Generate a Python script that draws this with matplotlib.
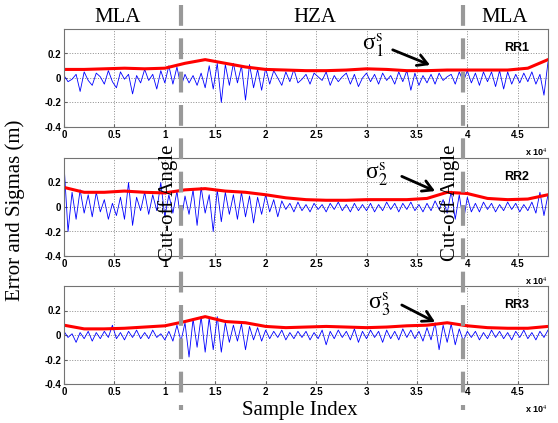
import numpy as np
import matplotlib.pyplot as plt
from matplotlib.lines import Line2D

# blue error series, one value every 400 samples (0 .. 48000)
err_rr1 = [0.02,-0.03,-0.01,0.03,-0.11,0.05,-0.02,-0.06,0.04,0.01,
           -0.05,0.06,-0.03,-0.08,0.05,-0.01,0.03,-0.13,0.02,-0.04,
           0.07,-0.02,0.03,-0.09,0.06,-0.04,0.1,-0.05,0.09,-0.07,
           0.03,-0.04,0.02,-0.06,0.04,-0.08,0.1,-0.09,0.12,-0.2,
           0.11,-0.06,0.12,-0.04,0.1,-0.18,0.11,-0.08,0.07,-0.1,
           0.08,-0.05,0.06,0.0,-0.06,0.05,-0.03,0.07,-0.04,-0.01,
           0.03,-0.05,0.04,0.01,-0.02,0.05,-0.06,0.02,-0.03,0.01,
           0.04,-0.05,0.03,-0.07,0.0,0.04,-0.03,0.03,-0.05,0.04,
           -0.02,0.02,-0.05,0.05,-0.03,0.06,-0.1,0.04,-0.06,0.02,
           -0.04,0.03,-0.05,0.04,-0.02,0.01,0.03,-0.05,0.05,-0.03,
           0.06,-0.04,0.04,-0.06,0.05,-0.03,0.05,-0.07,0.06,-0.09,
           0.05,-0.05,0.03,-0.04,0.04,-0.03,0.05,-0.05,0.03,-0.14,0.13]
err_rr2 = [0.35,-0.2,0.12,-0.1,0.14,-0.05,0.1,-0.08,0.12,-0.04,
           0.06,-0.1,0.03,-0.07,0.08,-0.1,0.2,-0.15,0.08,-0.03,
           0.12,-0.06,0.1,-0.03,0.2,-0.08,0.1,-0.05,0.13,-0.12,
           0.09,-0.06,0.14,-0.15,0.16,-0.05,0.1,-0.2,0.14,-0.12,
           0.12,-0.06,0.1,-0.1,0.12,-0.08,0.09,-0.13,0.08,-0.06,
           0.1,-0.04,0.06,-0.08,0.05,-0.02,0.03,-0.04,0.04,-0.03,
           0.02,-0.04,0.03,-0.02,0.02,-0.04,0.03,-0.02,0.04,-0.03,
           0.02,-0.04,0.03,-0.03,0.02,-0.03,0.03,-0.04,0.02,-0.03,
           0.04,-0.02,0.03,-0.04,0.03,-0.02,0.04,-0.03,0.02,-0.04,
           0.03,-0.03,0.05,-0.02,0.06,-0.05,0.13,-0.1,0.1,-0.12,
           0.08,-0.04,0.03,-0.04,0.04,-0.02,0.03,-0.04,0.02,-0.03,
           0.04,-0.02,0.03,-0.04,0.02,-0.03,0.04,-0.05,0.12,-0.07,0.1]
err_rr3 = [0.03,-0.02,0.01,-0.06,0.02,-0.03,0.03,-0.05,0.02,-0.03,
           0.03,-0.02,0.08,-0.03,0.02,-0.04,0.03,-0.02,0.04,-0.03,
           0.02,-0.03,0.04,-0.02,0.01,-0.04,0.03,-0.05,0.08,-0.05,
           0.1,-0.18,0.13,-0.1,0.15,-0.14,0.14,-0.12,0.15,-0.14,
           0.1,-0.06,0.08,-0.05,0.09,-0.12,0.07,-0.04,0.06,-0.05,
           0.04,-0.03,0.03,-0.02,0.04,-0.04,0.02,-0.03,0.03,-0.02,
           0.03,-0.04,0.02,-0.03,0.04,-0.08,0.03,-0.03,0.04,-0.02,
           0.03,-0.04,0.05,-0.06,0.03,-0.03,0.04,-0.02,0.03,-0.06,
           0.04,-0.03,0.03,-0.04,0.05,-0.02,0.04,-0.03,0.03,-0.05,
           0.06,-0.04,0.1,-0.12,0.08,-0.06,0.09,-0.08,0.05,-0.05,
           0.03,-0.02,0.03,-0.04,0.02,-0.03,0.04,-0.02,0.03,-0.03,
           0.02,-0.04,0.03,-0.02,0.04,-0.03,0.02,-0.04,0.03,-0.02,0.04]
sample = np.arange(0, 48001, 400)

# red sigma curves, one value every 2000 samples
sig_x = np.arange(0, 48001, 2000)
sig_rr1 = [0.07,0.07,0.075,0.08,0.075,0.08,0.12,0.15,0.12,0.09,0.07,0.065,0.06,
           0.06,0.065,0.075,0.07,0.06,0.06,0.065,0.065,0.065,0.065,0.08,0.15]
sig_rr2 = [0.16,0.12,0.12,0.13,0.12,0.115,0.14,0.15,0.13,0.12,0.1,0.075,0.06,
           0.055,0.055,0.06,0.06,0.06,0.07,0.12,0.11,0.07,0.06,0.065,0.1]
sig_rr3 = [0.08,0.05,0.05,0.055,0.065,0.075,0.11,0.15,0.11,0.1,0.07,0.06,0.065,
           0.07,0.065,0.06,0.065,0.075,0.08,0.1,0.075,0.06,0.055,0.055,0.07]

names = ['RR1', 'RR2', 'RR3']
errs = [err_rr1, err_rr2, err_rr3]
sigs = [sig_rr1, sig_rr2, sig_rr3]
sig_labels = [r'σ${}_{\mathrm{1}}^{\mathrm{s}}$', r'σ${}_{\mathrm{2}}^{\mathrm{s}}$',
              r'σ${}_{\mathrm{3}}^{\mathrm{s}}$']
# label position, arrow tail, arrow head
lab_pos = [(3.06e4, 0.27), (3.10e4, 0.27), (3.13e4, 0.25)]
tails = [(3.26e4, 0.23), (3.35e4, 0.25), (3.35e4, 0.245)]
heads = [(3.63e4, 0.106), (3.68e4, 0.13), (3.68e4, 0.106)]
cutoffs = [1.16e4, 3.95e4]

plt.rcParams['font.family'] = 'Liberation Sans'
plt.rcParams['mathtext.fontset'] = 'stix'

fig = plt.figure(figsize=(5.58, 4.23), dpi=100)
left, width = 64/558, 484/558
tops = [29, 158, 286]
h = 98
serif = 'Liberation Serif'

for k in range(3):
    ax = fig.add_axes([left, 1 - (tops[k] + h)/423, width, h/423])
    ax.plot(sample, errs[k], color='#0000ff', lw=0.6)
    ax.plot(sig_x, sigs[k], color='#ff0000', lw=2.2)
    ax.set_xlim(0, 48000)
    ax.set_ylim(-0.4, 0.4)
    ax.set_xticks(np.arange(0, 45001, 5000))
    ax.set_xticklabels(['0','0.5','1','1.5','2','2.5','3','3.5','4','4.5'],
                       fontsize=7, fontweight='bold')
    ax.set_yticks([-0.4, -0.2, 0, 0.2])
    ax.set_yticklabels(['-0.4','-0.2','0','0.2'], fontsize=7, fontweight='bold')
    ax.tick_params(direction='in', length=2, pad=2, color='0.4')
    ax.grid(True, linestyle=':', color='0.55', lw=0.7)
    for s in ax.spines.values():
        s.set_color('0.45')
    ax.text(0.96, 0.81, names[k], transform=ax.transAxes, ha='right', va='center',
            fontsize=9, fontweight='bold')
    ax.text(1.0, -0.26, r'x 10$^4$', transform=ax.transAxes, ha='right', va='center',
            fontsize=6.5, fontweight='bold')
    ax.text(lab_pos[k][0], lab_pos[k][1], sig_labels[k], ha='center', va='center',
            fontsize=17, family=serif)
    ax.annotate('', xy=heads[k], xytext=tails[k],
                arrowprops=dict(arrowstyle='->,head_length=0.7,head_width=0.4',
                                color='k', lw=2, shrinkA=0, shrinkB=0))

# cut-off angle dashed lines across the whole figure
for c in cutoffs:
    xf = (64 + c/1e4*100.9)/558
    fig.add_artist(Line2D([xf, xf], [1 - 5/423, 1 - 410/423], color='#999999',
                          lw=3, linestyle=(0, (5, 3)), zorder=10))

fig.text(118/558, 1 - 17/423, 'MLA', ha='center', va='center', fontsize=15, family=serif)
fig.text(315/558, 1 - 17/423, 'HZA', ha='center', va='center', fontsize=15, family=serif)
fig.text(505/558, 1 - 17/423, 'MLA', ha='center', va='center', fontsize=15, family=serif)
fig.text(168/558, 1 - 203/423, 'Cut-off Angle', rotation=90, ha='center', va='center',
         fontsize=15, family=serif, zorder=11)
fig.text(450/558, 1 - 203/423, 'Cut-off Angle', rotation=90, ha='center', va='center',
         fontsize=15, family=serif, zorder=11)
fig.text(15/558, 1 - 210/423, 'Error and Sigmas (m)', rotation=90, ha='center', va='center',
         fontsize=15, family=serif)
fig.text(300/558, 1 - 410/423, 'Sample Index', ha='center', va='center',
         fontsize=15, family=serif)

fig.savefig('out.png', dpi=100)
